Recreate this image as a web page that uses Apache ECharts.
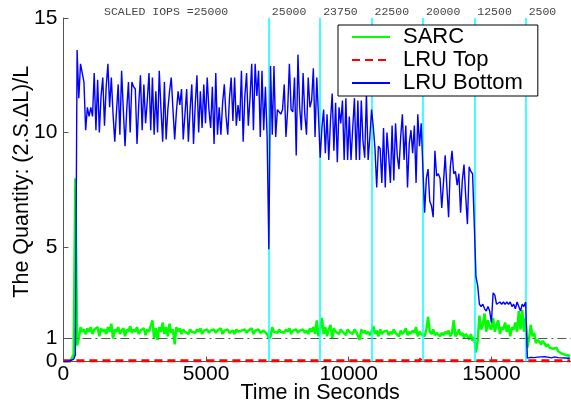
<!DOCTYPE html>
<html><head><meta charset="utf-8">
<script src="https://cdn.jsdelivr.net/npm/echarts@6/dist/echarts.min.js"></script>
<style>html,body{margin:0;padding:0;background:#fff}#chart{width:571px;height:404px}</style>
</head><body><div id="chart"></div>
<script>
// sample times (seconds)
const times = [
0,60,120,180,240,300,360,420,480,540,600,660,720,780,840,900,960,1020,1080,1140,
1200,1260,1320,1380,1440,1500,1560,1620,1680,1740,1800,1860,1920,1980,2040,2100,2160,2220,2280,2340,
2400,2460,2520,2580,2640,2700,2760,2820,2880,2940,3000,3060,3120,3180,3240,3300,3360,3420,3480,3540,
3600,3660,3720,3780,3840,3900,3960,4020,4080,4140,4200,4260,4320,4380,4440,4500,4560,4620,4680,4740,
4800,4860,4920,4980,5040,5100,5160,5220,5280,5340,5400,5460,5520,5580,5640,5700,5760,5820,5880,5940,
6000,6060,6120,6180,6240,6300,6360,6420,6480,6540,6600,6660,6720,6780,6840,6900,6960,7020,7080,7140,
7200,7260,7320,7380,7440,7500,7560,7620,7680,7740,7800,7860,7920,7980,8040,8100,8160,8220,8280,8340,
8400,8460,8520,8580,8640,8700,8760,8820,8880,8940,9000,9060,9120,9180,9240,9300,9360,9420,9480,9540,
9600,9660,9720,9780,9840,9900,9960,10020,10080,10140,10200,10260,10320,10380,10440,10500,10560,10620,10680,10740,
10800,10860,10920,10980,11040,11100,11160,11220,11280,11340,11400,11460,11520,11580,11640,11700,11760,11820,11880,11940,
12000,12060,12120,12180,12240,12300,12360,12420,12480,12540,12600,12660,12720,12780,12840,12900,12960,13020,13080,13140,
13200,13260,13320,13380,13440,13500,13560,13620,13680,13740,13800,13860,13920,13980,14040,14100,14160,14220,14280,14340,
14400,14460,14520,14580,14640,14700,14760,14820,14880,14940,15000,15060,15120,15180,15240,15300,15360,15420,15480,15540,
15600,15660,15720,15780,15840,15900,15960,16020,16080,16140,16200,16260,16320,16380,16440,16500,16560,16620,16680,16740,
16800,16860,16920,16980,17040,17100,17160,17220,17280,17340,17400,17460,17520,17580,17640,17700,17760
];
const sarc = [
0,0,0,0,0.02,0.05,0.3,8.0,0.7,1.0,1.5,1.3,1.4,1.2,1.45,1.3,1.5,1.2,1.4,1.35,
1.5,1.1,1.45,1.3,1.4,1.2,1.5,1.3,1.65,1.0,1.4,1.3,1.5,1.2,1.35,1.45,1.1,1.4,1.3,1.55,
1.25,1.4,1.3,1.5,1.2,1.35,1.3,1.45,1.15,1.4,1.3,1.55,1.8,1.0,1.45,0.95,1.5,1.3,1.7,1.2,
1.5,1.1,1.65,1.25,1.4,0.75,1.5,1.3,1.45,1.2,1.4,1.3,1.35,1.2,1.4,1.3,1.35,1.25,1.4,1.3,
1.45,1.2,1.35,1.3,1.4,1.25,1.35,1.3,1.4,1.25,1.35,1.3,1.45,1.2,1.35,1.3,1.4,1.25,1.3,1.35,
1.2,1.4,1.3,1.25,1.35,1.3,1.4,1.25,1.35,1.3,1.45,1.2,1.35,1.3,1.4,1.25,1.3,1.35,1.4,1.2,
1.0,1.1,1.5,1.3,1.35,1.25,1.4,1.3,1.35,1.25,1.4,1.3,1.45,1.2,1.35,1.3,1.4,1.25,1.35,1.3,
1.4,1.25,1.35,1.2,1.45,1.3,1.5,1.2,1.8,1.1,1.45,1.9,1.2,1.5,1.1,1.4,1.6,1.0,1.45,1.3,
1.35,1.2,1.4,1.3,1.35,1.15,1.4,1.3,1.35,1.2,1.4,1.3,1.35,0.95,1.4,1.25,1.35,1.2,1.3,1.15,
1.3,1.55,1.2,1.35,1.1,1.4,1.2,1.3,1.25,1.35,1.15,1.3,1.2,1.4,1.25,1.3,1.1,1.35,1.2,1.3,
1.45,1.15,1.3,1.2,1.35,1.25,1.5,1.1,1.3,1.2,1.25,1.1,1.4,1.95,1.3,1.2,1.4,1.15,1.25,1.3,
1.1,1.25,1.15,1.3,1.2,1.35,1.1,1.25,1.8,1.1,1.2,1.4,1.15,1.25,1.05,1.2,1.1,0.95,1.2,0.9,
1.05,0.4,0.9,2.0,1.4,1.6,2.1,1.3,1.8,1.5,1.4,1.9,1.3,1.6,1.8,1.2,1.5,1.4,1.7,1.3,
1.6,1.1,1.5,1.4,1.7,1.3,2.2,1.4,2.25,1.3,1.9,0.6,1.0,1.6,1.1,1.25,0.8,0.95,1.0,0.75,
0.9,0.8,0.65,0.75,0.6,0.65,0.55,0.5,0.6,0.45,0.4,0.35,0.4,0.3,0.32,0.25,0.28
];
const lruBottom = [
0,0,0,0.02,0.03,0.05,0.1,0.3,13.6,11.5,13.0,12.6,12.2,10.1,11.1,10.7,11.1,10.7,12.6,10.1,
12.3,10.0,11.6,12.4,10.3,12.0,13.0,11.1,12.4,10.8,9.6,10.9,12.1,9.9,12.7,11.0,9.4,11.0,12.2,10.0,
12.2,12.0,11.9,9.5,11.2,12.5,10.1,12.1,10.4,11.4,12.6,10.1,12.4,9.9,11.8,10.0,12.7,11.0,9.6,12.2,
9.7,11.0,11.8,12.4,11.0,9.7,10.9,11.8,11.2,11.9,9.7,10.8,11.9,9.6,11.0,12.1,9.5,11.2,12.5,10.0,
11.8,10.2,12.1,10.4,12.4,11.0,10.2,12.0,9.5,12.6,9.9,11.1,9.9,11.3,12.1,10.7,9.9,11.5,12.4,10.5,
12.4,10.3,11.2,10.5,12.7,9.6,11.6,12.6,10.3,11.5,13.0,10.1,13.0,11.6,12.7,9.8,12.7,10.1,12.0,9.8,
4.9,12.9,9.9,12.9,9.8,11.0,11.0,10.8,11.0,12.1,9.8,11.0,13.0,11.0,10.9,12.4,9.0,13.4,11.1,10.1,
12.6,10.8,9.9,12.4,11.1,11.4,12.8,9.8,12.4,10.7,8.9,10.2,11.0,9.1,10.8,8.8,10.5,11.7,9.2,11.3,
8.7,11.1,10.4,11.4,8.8,11.5,8.8,10.7,8.8,10.2,11.5,8.8,11.4,8.8,11.4,9.6,8.9,11.7,8.8,9.8,
11.0,10.25,9.3,7.6,9.4,9.3,7.8,10.2,7.6,10.0,9.0,7.8,10.3,7.9,10.4,9.0,8.4,9.8,10.8,8.8,
10.3,7.6,9.5,10.1,9.1,10.3,7.8,10.8,9.4,10.4,8.4,6.5,8.0,8.4,7.0,6.8,6.3,9.2,8.1,8.2,
8.0,6.7,7.8,9.0,7.6,6.3,8.5,9.2,8.2,8.3,7.7,8.2,6.5,7.9,8.6,7.2,6.0,8.5,8.3,8.2,
6.0,3.7,3.3,2.5,2.4,2.5,2.3,2.2,2.4,2.2,1.7,3.0,2.9,2.5,2.45,2.6,2.5,2.6,2.5,2.6,
2.5,2.6,2.4,2.5,2.3,2.6,2.4,2.2,2.5,2.4,2.6,0.15,0.2,0.18,0.22,0.17,0.2,0.19,0.16,0.2,
0.18,0.21,0.17,0.19,0.2,0.16,0.18,0.2,0.15,0.17,0.19,0.16,0.18,0.15,0.17,0.14,0.16
];
const lruTopTimes = [0, 7140, 7200, 7260, 12480, 12540, 12600, 17760];
const lruTop = [0.03, 0.03, 0.1, 0.03, 0.03, 0.15, 0.03, 0.03];
const phaseTimes = [7200, 9000, 10800, 12600, 14400, 16200];
const phaseIops = ['25000', '23750', '22500', '20000', '12500', '2500'];
const firstPhaseLabel = 'SCALED IOPS =25000';
const refLevel = 1;
const xTicks = [0, 5000, 10000, 15000];
const yTicks = [0, 1, 5, 10, 15];

const SANS = 'Liberation Sans, Arial, Helvetica, sans-serif';
const MONO = 'Liberation Mono, Courier New, monospace';
const pair = (ts, vs) => ts.map((t, i) => [t, vs[i]]);

const chart = echarts.init(document.getElementById('chart'));
chart.setOption({
  animation: false,
  backgroundColor: '#fff',
  title: {
    text: firstPhaseLabel, left: 104, top: 6, padding: 0,
    textStyle: { fontFamily: MONO, fontSize: 11.5, fontWeight: 'normal', color: '#444' }
  },
  grid: { left: 63.4, right: -6, top: 18, bottom: 42.5, containLabel: false, outerBoundsMode: 'none' },
  legend: {
    data: ['SARC', 'LRU Top', 'LRU Bottom'],
    orient: 'vertical', left: 338, top: 25, z: 10,
    backgroundColor: '#fff', borderColor: '#000', borderWidth: 1, borderRadius: 0,
    padding: [1, 15, 2, 13], itemWidth: 38, itemHeight: 12, itemGap: 1,
    itemStyle: { opacity: 0 },
    textStyle: { fontFamily: SANS, fontSize: 22, color: '#000', padding: [0, 0, 0, 8] }
  },
  xAxis: {
    type: 'value', min: 0, max: 18000,
    axisLine: { show: true, lineStyle: { color: '#555', width: 1 } },
    axisTick: { show: true, inside: true, length: 5, customValues: xTicks, lineStyle: { color: '#555' } },
    axisLabel: { customValues: xTicks, formatter: v => String(v), fontFamily: SANS, fontSize: 21, color: '#000', margin: 2 },
    splitLine: { show: false },
    name: 'Time in Seconds', nameLocation: 'middle', nameGap: 21, nameMoveOverlap: false,
    nameTextStyle: { fontFamily: SANS, fontSize: 21.5, color: '#000' }
  },
  yAxis: {
    type: 'value', min: 0, max: 15,
    axisLine: { show: true, lineStyle: { color: '#555', width: 1 } },
    axisTick: { show: true, inside: true, length: 5, customValues: yTicks, lineStyle: { color: '#555' } },
    axisLabel: { customValues: yTicks, formatter: v => String(v), fontFamily: SANS, fontSize: 21, color: '#000', margin: 6 },
    splitLine: { show: false },
    name: 'The Quantity: (2.S.\u0394L)/L', nameLocation: 'middle', nameGap: 30, nameMoveOverlap: false,
    nameTextStyle: { fontFamily: SANS, fontSize: 21.5, color: '#000', padding: [0, 0, 0, 16] }
  },
  series: [
    {
      name: 'refline', type: 'line', data: [], z: 1, silent: true,
      markLine: {
        silent: true, symbol: ['none', 'none'], animation: false,
        label: { show: false },
        lineStyle: { color: '#555', width: 1, type: [9, 4, 2, 4] },
        data: [{ yAxis: refLevel }]
      }
    },
    {
      name: 'SARC', type: 'line', data: pair(times, sarc), z: 2,
      symbol: 'none', showSymbol: false,
      itemStyle: { color: '#00ff00' },
      lineStyle: { color: '#00ff00', width: 2.5 }
    },
    {
      name: 'phases', type: 'line', data: [], z: 3, silent: true,
      markLine: {
        silent: true, symbol: ['none', 'none'], animation: false,
        lineStyle: { color: '#00ffff', width: 1.5, type: 'solid' },
        label: {
          show: true, position: 'end', formatter: '{b}', align: 'left', verticalAlign: 'middle',
          distance: 6, padding: [0, 0, 0, 3],
          fontFamily: MONO, fontSize: 11.5, color: '#444'
        },
        data: phaseTimes.map((t, i) => ({ xAxis: t, name: phaseIops[i] }))
      }
    },
    {
      name: 'LRU Top', type: 'line', data: pair(lruTopTimes, lruTop), z: 4,
      symbol: 'none', showSymbol: false,
      itemStyle: { color: '#ff0000' },
      lineStyle: { color: '#ff0000', width: 3, type: [8, 5] }
    },
    {
      name: 'LRU Bottom', type: 'line', data: pair(times, lruBottom), z: 5,
      symbol: 'none', showSymbol: false,
      itemStyle: { color: '#0000ff' },
      lineStyle: { color: '#0000ff', width: 1.4 }
    }
  ]
});
</script>
</body></html>
